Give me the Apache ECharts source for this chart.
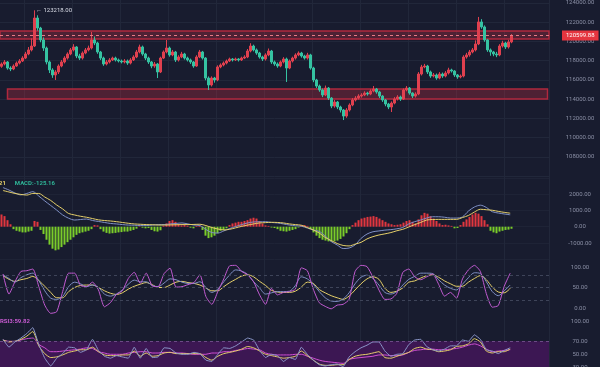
<!DOCTYPE html>
<html><head><meta charset="utf-8">
<script src="https://cdn.jsdelivr.net/npm/echarts@6/dist/echarts.min.js"></script>
<style>html,body{margin:0;padding:0;background:#181c2f;overflow:hidden}#c{width:600px;height:367px}</style>
</head><body><div id="c"></div>
<script>
const closes = [117640,117850,117220,117120,117430,117740,117950,118260,118680,119100,
119510,122420,121380,120140,119300,117850,117020,116500,116810,117430,
117850,118260,118680,119100,119410,118470,118260,118780,119100,119300,
120140,119820,118890,118260,117640,117850,118060,118260,118060,117950,
117850,117950,117740,118060,118370,118890,119410,118680,118260,117850,
117430,117640,116810,118260,118890,119300,118580,118890,118060,118370,
118680,118260,118060,117850,117430,118370,118890,118260,116180,115460,
116180,115980,117330,117540,117740,117950,118160,118060,118160,118060,
118260,118370,118990,119510,119100,118780,118370,118160,118580,118990,
117850,117640,117430,117850,118160,117220,117950,118260,118580,118780,
118470,118260,118580,117220,115980,115350,114940,114420,115140,114100,
113270,113690,113170,112860,112230,112860,113380,113900,114100,114310,
114420,114620,114520,114830,115040,114730,114310,113900,113480,113170,
113580,114000,114210,114000,114940,115140,114620,114310,114520,116600,
117330,117430,116810,116390,116500,116180,116600,116390,116700,117020,
116910,116500,116290,116390,118370,118580,118890,119100,119720,122010,
121490,120140,119100,118890,118680,118580,119510,119820,119410,119930,
120599.88];
const opens = [117400,117640,117850,117220,117120,117430,117740,117950,118260,118680,
119100,119510,122420,121380,120140,119300,117850,117020,116500,116810,
117430,117850,118260,118680,119100,119410,118470,118260,118780,119100,
119300,120140,119820,118890,118260,117640,117850,118060,118260,118060,
117950,117850,117950,117740,118060,118370,118890,119410,118680,118260,
117850,117430,117640,116810,118260,118890,119300,118580,118890,118060,
118370,118680,118260,118060,117850,117430,118370,118890,118260,116180,
115460,116180,115980,117330,117540,117740,117950,118160,118060,118160,
118060,118260,118370,118990,119510,119100,118780,118370,118160,118580,
118990,117850,117640,117430,117850,118160,117220,117950,118260,118580,
118780,118470,118260,118580,117220,115980,115350,114940,114420,115140,
114100,113270,113690,113170,112860,112230,112860,113380,113900,114100,
114310,114420,114620,114520,114830,115040,114730,114310,113900,113480,
113170,113580,114000,114210,114000,114940,115140,114620,114310,114520,
116600,117330,117430,116810,116390,116500,116180,116600,116390,116700,
117020,116910,116500,116290,116390,118370,118580,118890,119100,119720,
122010,121490,120140,119100,118890,118680,118580,119510,119820,119410,
119930];
const highs = [117800,118050,117950,117400,117600,117900,118150,118450,118900,119400,
120300,123218,122700,121500,120400,119450,118000,117200,117000,117600,
118050,118450,118850,119300,119700,119500,118700,118950,119300,119550,
120970,120500,119950,119000,118400,118050,118250,118400,118400,118200,
118100,118150,118100,118250,118550,119100,119650,119550,118800,118400,
117950,117850,117750,118400,119050,120135,119450,119100,119000,118550,
118900,118800,118400,118200,117950,118550,119100,119000,118350,116350,
116350,116300,117500,117700,117900,118100,118300,118250,118300,118250,
118400,118550,119200,119800,119650,119250,118900,118500,118750,119250,
119100,118000,117800,118000,118350,118300,118100,118400,118750,118950,
118900,118600,118800,118700,117350,116100,115500,115100,115400,115250,
114200,113900,113800,113300,112950,113050,113550,114100,114300,114500,
114600,114800,114750,115000,115350,115150,114850,114400,114000,113600,
113750,114200,114400,114350,115100,115350,115250,114700,114700,116800,
117550,117650,117550,116950,116700,116650,116800,116750,116900,117250,
117150,117000,116600,116550,118550,118800,119100,119300,120100,122530,
122300,121650,120250,119250,119000,118900,119700,120050,119950,120150,
120750];
const lows = [117250,117500,117050,116900,117000,117350,117600,117850,118150,118550,
118950,119400,121100,119900,119000,117600,116700,116200,115980,116600,
117300,117700,118100,118550,118950,118250,118050,118100,118650,118950,
119150,119600,118700,118050,117450,117500,117700,117950,117900,117800,
117700,117700,117550,117600,117950,118250,118750,118500,118050,117650,
117200,117250,116180,116700,118150,118750,118400,118450,117850,117900,
118250,118100,117900,117650,117250,117350,118250,118100,115950,114935,
115300,115700,115850,117200,117400,117600,117850,117900,117950,117900,
117950,118150,118250,118850,118950,118600,118200,117950,118000,118450,
117650,117450,117250,117300,117700,115770,117100,117800,118100,118450,
118300,118100,118100,117050,115750,115150,114750,114200,114300,113900,
113050,113100,112950,112600,111815,112050,112700,113250,113750,113950,
114150,114300,114350,114400,114700,114550,114100,113700,113250,112950,
112650,113450,113850,113800,113900,114800,114450,114100,114150,114400,
116450,117200,116600,116200,116250,116000,116050,116200,116250,116550,
116750,116300,116100,116150,116250,118200,118400,118750,118950,119600,
121300,119950,118900,118500,118450,118350,118450,119350,119200,119250,
119800];
const macdHist = [750,650,400,150,-150,-250,-300,-350,-350,-300,
-250,350,300,-200,-450,-800,-1100,-1350,-1450,-1400,
-1250,-1100,-950,-800,-650,-500,-400,-350,-300,-250,
-150,100,80,-150,-300,-380,-420,-400,-380,-350,
-330,-300,-300,-250,-200,-120,30,-60,-100,-80,
-200,-280,-300,-220,50,200,350,400,300,150,
80,100,60,-60,-100,50,80,-200,-550,-700,
-650,-550,-400,-250,-200,-100,100,200,250,300,
300,350,400,500,550,500,350,200,80,50,
-50,-80,-150,-250,-280,-300,-250,-200,-150,-50,
100,100,50,-150,-350,-550,-700,-800,-850,-900,
-920,-900,-850,-750,-600,-400,-150,100,250,400,
500,550,600,620,650,600,500,400,300,200,
150,100,120,150,250,350,400,300,200,450,
700,850,800,650,500,350,200,100,120,80,
50,-100,-80,100,300,450,600,750,850,800,
650,400,150,-250,-350,-400,-300,-250,-200,-180,
-125];
const dif = [2400,2250,2070,1950,2040,2150,1880,1580,1300,1020,
720,520,410,440,470,380,320,260,200,170,
130,100,90,70,70,100,130,130,170,200,
230,170,100,70,-170,-360,-390,-260,-110,10,
130,230,290,300,310,260,230,170,100,60,
30,-80,-200,-290,-570,-910,-1120,-1340,-1310,-1120,
-720,-450,-310,-260,-210,-180,-130,-50,170,310,
410,530,610,610,580,530,530,600,960,1210,
1320,1180,920,840,780,730];
const dea = [2220,2130,2040,1980,1940,2040,2040,1820,1610,1330,
1090,810,720,640,580,500,420,380,350,310,
260,210,170,150,130,120,100,100,110,120,
130,130,140,150,70,-50,-140,-200,-160,-70,
20,100,170,230,250,270,260,230,170,130,
90,-50,-200,-390,-660,-850,-1030,-1150,-1180,-1070,
-960,-750,-610,-510,-440,-360,-250,-160,-20,130,
260,410,440,450,450,450,450,560,690,900,
1070,1040,1010,940,880,830];
const kdjFast = [83,34,64,89,91,95,52,7,-13,-9,
40,85,85,55,52,63,44,3,13,33,
42,72,87,60,85,54,52,84,97,51,
52,57,62,81,28,9,40,71,103,104,
89,81,64,32,9,48,32,38,40,46,
98,91,46,13,4,-2,7,9,21,89,
104,101,75,44,21,22,36,87,95,76,
69,76,83,58,29,38,24,71,93,104,
89,35,2,6,53,85];
const kdjMid = [81,72,63,74,81,85,67,42,24,21,
28,52,63,59,52,56,50,34,29,34,
44,58,68,64,64,55,52,61,71,69,
63,60,60,64,50,38,46,64,81,93,
90,82,64,49,34,37,40,40,41,55,
76,71,58,40,25,17,16,22,37,59,
75,80,72,56,38,34,40,56,70,77,
85,85,84,69,56,48,44,58,74,86,
84,64,40,30,42,56];
const kdjSlow = [79,70,65,69,72,77,67,53,38,25,
25,40,50,55,56,56,50,42,36,33,
37,46,53,58,62,57,50,50,56,63,
65,62,60,56,49,42,42,52,62,70,
78,81,76,65,55,43,39,38,38,41,
51,63,60,45,37,30,25,21,29,44,
59,71,76,70,48,38,41,49,63,66,
73,79,81,75,66,59,53,53,63,72,
79,69,51,39,37,48];
const rsiFast = [73,61,69,75,82,91,65,44,32,44,
51,61,60,53,57,73,56,47,44,48,
46,44,61,44,59,45,46,60,59,52,
50,50,53,51,41,39,50,60,59,63,
69,75,72,56,45,50,48,39,45,42,
61,50,41,34,32,34,35,31,46,54,
60,64,69,69,55,47,50,51,65,72,
73,62,57,55,58,63,63,72,70,80,
73,57,55,51,56,60];
const rsiMid = [72,69,70,73,78,85,63,51,45,46,
49,53,55,57,57,61,54,49,48,48,
49,49,55,47,52,47,48,52,53,51,
51,51,51,51,45,41,47,51,53,55,
58,62,60,55,50,48,46,44,45,47,
55,48,41,35,33,33,34,34,42,47,
49,50,52,54,45,44,47,50,53,59,
61,58,57,54,55,57,62,63,66,74,
69,55,52,54,54,58];
const rsiSlow = [72,70,70,72,74,75,65,60,54,54,
55,56,57,58,60,59,54,52,50,50,
50,52,53,54,54,52,52,53,53,52,
52,51,50,50,50,52,52,54,54,56,
57,59,58,57,52,50,49,49,49,50,
50,47,44,41,39,38,37,36,42,44,
45,46,47,49,49,48,48,49,53,56,
57,58,58,57,57,58,59,61,64,66,
63,58,54,55,56,57];
const upperZone = [120240, 121070];
const lowerZone = [114000, 115040];
const lastPrice = 120599.88;
const peakPrice = 123218;
const peakIndex = 11;
const kdjLevels = [20, 50, 80];
const rsiBand = [30, 70];
const rsiTickLabels = [100, 70, 50, 30];
const macdText = 'MACD:-125.16';
const macdPrefix = '21';
const rsiText = 'RSI3:59.82';

const candleCats = Array.from({length: 183}, (_, i) => String(i));
const lineCats = Array.from({length: 92}, (_, i) => String(i));
const candleData = candleCats.map((c, i) => i < closes.length ? [opens[i], closes[i], lows[i], highs[i]] : '-');
const histData = candleCats.map((c, i) => i < macdHist.length ? {value: macdHist[i], itemStyle: {color: macdHist[i] >= 0 ? '#e2363f' : '#7acd2a'}} : '-');

const FONT = 'Roboto';
const LBL = '#8a8fa5';
const GRIDC = '#21273a';
const W = 549;
const hiddenCat = (grid, data, pos) => ({type: 'category', gridIndex: grid, data: data, show: false, position: pos || 'bottom', boundaryGap: true});
const rightLabel = (extra) => Object.assign({color: LBL, fontSize: 6, fontFamily: FONT, margin: 31, align: 'center', formatter: v => Number(v).toFixed(2)}, extra || {});
const lineS = (x, y, data, color, smooth) => ({type: 'line', xAxisIndex: x, yAxisIndex: y, data: data, symbol: 'none', smooth: smooth, lineStyle: {color: color, width: 1}, itemStyle: {color: color}, z: 3});
const g = (top, height) => ({left: 0, width: W, top: top, height: height, containLabel: false, outerBoundsMode: 'none'});

const chart = echarts.init(document.getElementById('c'), null, {renderer: 'canvas'});
chart.setOption({
  backgroundColor: '#181c2f',
  animation: false,
  textStyle: {fontFamily: FONT},
  title: [
    {text: '{a|' + macdPrefix + '}  {b|' + macdText + '}', left: -1, top: 174, padding: 0,
      textStyle: {rich: {a: {color: '#e3cf6a', fontSize: 6, fontFamily: FONT}, b: {color: '#2fb597', fontSize: 6, fontFamily: FONT}}}},
    {text: '{c|' + rsiText + '}', left: 0, top: 318, padding: 0,
      textStyle: {rich: {c: {color: '#c65ad0', fontSize: 6, fontFamily: FONT}}}}
  ],
  grid: [
    g(2.8, 173.2),
    g(177.8, 81.5),
    g(246.5, 82),
    g(321.8, 65),
    g(0, 367)
  ],
  xAxis: [
    hiddenCat(0, candleCats),
    hiddenCat(1, candleCats, 'bottom'),
    hiddenCat(1, lineCats, 'top'),
    hiddenCat(2, lineCats),
    hiddenCat(3, lineCats),
    {type: 'category', gridIndex: 4, data: candleCats, boundaryGap: true,
      axisLine: {show: false}, axisTick: {show: false}, axisLabel: {show: false},
      splitLine: {show: true, interval: (i) => i % 16 === 8, lineStyle: {color: GRIDC, width: 1}}}
  ],
  yAxis: [
    {type: 'value', gridIndex: 0, position: 'right', min: 106000, max: 124000, interval: 2000,
      axisLine: {show: false}, axisTick: {show: false},
      axisLabel: rightLabel({showMinLabel: false}),
      splitLine: {show: true, lineStyle: {color: GRIDC}}},
    {type: 'value', gridIndex: 1, position: 'right', min: -2000, max: 3000, interval: 1000,
      axisLine: {show: false}, axisTick: {show: false},
      axisLabel: rightLabel({showMinLabel: false, showMaxLabel: false}),
      splitLine: {show: true, lineStyle: {color: '#1e2336'}}},
    {type: 'value', gridIndex: 2, position: 'right', min: -50, max: 150, interval: 50,
      axisLine: {show: false}, axisTick: {show: false},
      axisLabel: rightLabel({showMinLabel: false, showMaxLabel: false}),
      splitLine: {show: false}},
    {type: 'value', gridIndex: 3, position: 'right', min: 0, max: 100, interval: 10,
      axisLine: {show: false}, axisTick: {show: false},
      axisLabel: rightLabel({formatter: v => rsiTickLabels.indexOf(v) >= 0 ? Number(v).toFixed(2) : ''}),
      splitLine: {show: false}},
    {type: 'value', gridIndex: 4, position: 'right', show: true, min: 0, max: 1,
      axisLine: {show: true, lineStyle: {color: GRIDC}}, axisTick: {show: false}, axisLabel: {show: false}, splitLine: {show: false}}
  ],
  series: [
    {type: 'candlestick', xAxisIndex: 0, yAxisIndex: 0, data: candleData, barMaxWidth: 2, barWidth: 2,
      itemStyle: {color: '#e0404f', color0: '#35c3a2', borderColor: '#e0404f', borderColor0: '#35c3a2', borderWidth: 1},
      markArea: {silent: true,
        itemStyle: {color: 'rgba(205,45,65,0.30)', borderColor: '#b0283e', borderWidth: 1.5},
        data: [
          [{yAxis: upperZone[1]}, {yAxis: upperZone[0]}],
          [{xAxis: '2', yAxis: lowerZone[1]}, {xAxis: '182', yAxis: lowerZone[0]}]
        ]},
      markLine: {silent: true, symbol: 'none',
        lineStyle: {color: '#e87a86', type: [3, 3], width: 1},
        label: {show: true, position: 'end', distance: 13, formatter: String(lastPrice.toFixed(2)),
          backgroundColor: '#e5353f', color: '#ffffff', fontSize: 6, fontFamily: FONT, padding: [2, 4, 2, 4]},
        data: [{yAxis: lastPrice}]},
      markPoint: {silent: true, symbol: 'circle', symbolSize: 1,
        itemStyle: {color: 'rgba(0,0,0,0)'},
        label: {show: true, position: 'right', distance: 1, color: '#d8dbe6', fontSize: 6, fontFamily: FONT,
          formatter: '\u2190 ' + peakPrice.toFixed(2)},
        data: [{coord: [String(peakIndex), peakPrice]}]}
    },
    {type: 'bar', xAxisIndex: 1, yAxisIndex: 1, data: histData, barWidth: 2, z: 2},
    lineS(2, 1, dif, '#7f90c6', 0.3),
    lineS(2, 1, dea, '#e6d06a', 0.3),
    Object.assign(lineS(3, 2, kdjSlow, '#e6d06a', 0.3), {
      markLine: {silent: true, symbol: 'none', label: {show: false},
        lineStyle: {color: '#3e4459', type: [3, 3], width: 1},
        data: kdjLevels.map(v => ({yAxis: v}))}}),
    lineS(3, 2, kdjMid, '#7f8fc4', 0.3),
    lineS(3, 2, kdjFast, '#c25bd2', 0.2),
    Object.assign(lineS(4, 3, rsiSlow, '#cf4fd2', 0.3), {
      markArea: {silent: true, itemStyle: {color: '#3c1753'},
        data: [[{yAxis: rsiBand[1]}, {yAxis: rsiBand[0]}]]},
      markLine: {silent: true, symbol: 'none', label: {show: false},
        lineStyle: {color: '#6c4a86', type: [3, 3], width: 1},
        data: [{yAxis: rsiBand[1]}]}}),
    lineS(4, 3, rsiMid, '#e6d06a', 0.2),
    lineS(4, 3, rsiFast, '#8a96c8', 0.1)
  ]
});
</script></body></html>
